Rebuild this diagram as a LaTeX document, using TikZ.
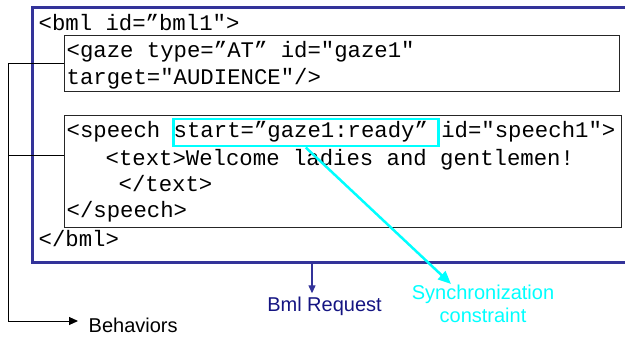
\documentclass[tikz,border=0pt]{standalone}
\usepackage{fontspec}
\setmainfont{Liberation Sans}
\setmonofont{Liberation Mono}
\usetikzlibrary{arrows.meta,calc}
\definecolor{framebl}{RGB}{51,51,153}
\definecolor{reqblue}{RGB}{20,20,130}
\definecolor{synccyan}{RGB}{0,255,255}
\begin{document}
\begin{tikzpicture}[x=1pt,y=-1pt,
  code/.style={anchor=base west, inner sep=0pt, font=\ttfamily\fontsize{22.3}{27}\selectfont},
  codebox/.style={draw=black!85, line width=1.2pt, anchor=north west, inner sep=0pt},
  lbl/.style={inner sep=0pt, font=\fontsize{20}{23}\selectfont},
  conn/.style={draw=black, line width=1pt},
  tipsmall/.style={-{Triangle[length=9pt,width=8pt]}}]
\useasboundingbox (0,0) rectangle (625,337);

% outer BML request frame (open on the right)
\coordinate (frNE) at (625,8);
\coordinate (frNW) at (32,8);
\coordinate (frSW) at (32,262);
\coordinate (frSE) at (625,262);
\draw[framebl, line width=3pt] (frNE) -- (frNW) -- (frSW) -- (frSE);

% behaviour boxes
\node[codebox, minimum width=555pt, minimum height=56pt] (gaze) at (64,35) {};
\node[codebox, minimum width=557pt, minimum height=112pt] (speech) at (64,115) {};

% XML listing
\node[code] (bmlopen) at (38.5,31) {<bml id=”bml1">};
\node[code] (gazeA) at (66.5,58) {<gaze type=”AT” id="gaze1"};
\node[code] (gazeB) at (66.5,85) {target="AUDIENCE"/>};
\node[code] (spA) at (66.5,138) {<speech start=”gaze1:ready” id="speech1">};
\node[code] (spB) at (105.5,165) {<text>Welcome ladies and gentlemen!};
\node[code] (spC) at (118.5,191.5) {</text>};
\node[code] (spD) at (66.5,218) {</speech>};
\node[code] (bmlclose) at (38.5,246.5) {</bml>};

% synchronization constraint highlight
\node[draw=synccyan, line width=2.5pt, anchor=north west, minimum width=265pt,
      minimum height=27pt, inner sep=0pt] (sync) at (172,118) {};
\node[lbl, synccyan, align=center, anchor=north] (synclbl) at (483,284.5)
      {Synchronization\\constraint};
\coordinate (synctip) at (451,284);
\draw[synccyan, line width=2.5pt, -{Triangle[length=13pt,width=11pt]}]
      (sync.south) -- (synctip);

% BML request label
\node[lbl, reqblue, anchor=base] (bmlreq) at (324.5,311) {Bml Request};
\coordinate (reqtap) at (312,262);
\draw[framebl, line width=1.2pt, -{Triangle[length=8pt,width=7pt]}]
      (reqtap) -- ($(reqtap |- bmlreq.north)+(0,-3)$);

% behaviours bracket
\node[lbl, anchor=base west] (behav) at (88.5,332.5) {Behaviors};
\coordinate (bend) at (8,321);
\coordinate (behtip) at (78,321);
\coordinate (sptap) at ($(speech.north west)+(0,41)$);
\draw[conn] (gaze.west) -| (bend);
\draw[conn] (sptap) -- (sptap -| bend);
\draw[conn, tipsmall] (bend) -- (behtip);
\end{tikzpicture}
\end{document}
